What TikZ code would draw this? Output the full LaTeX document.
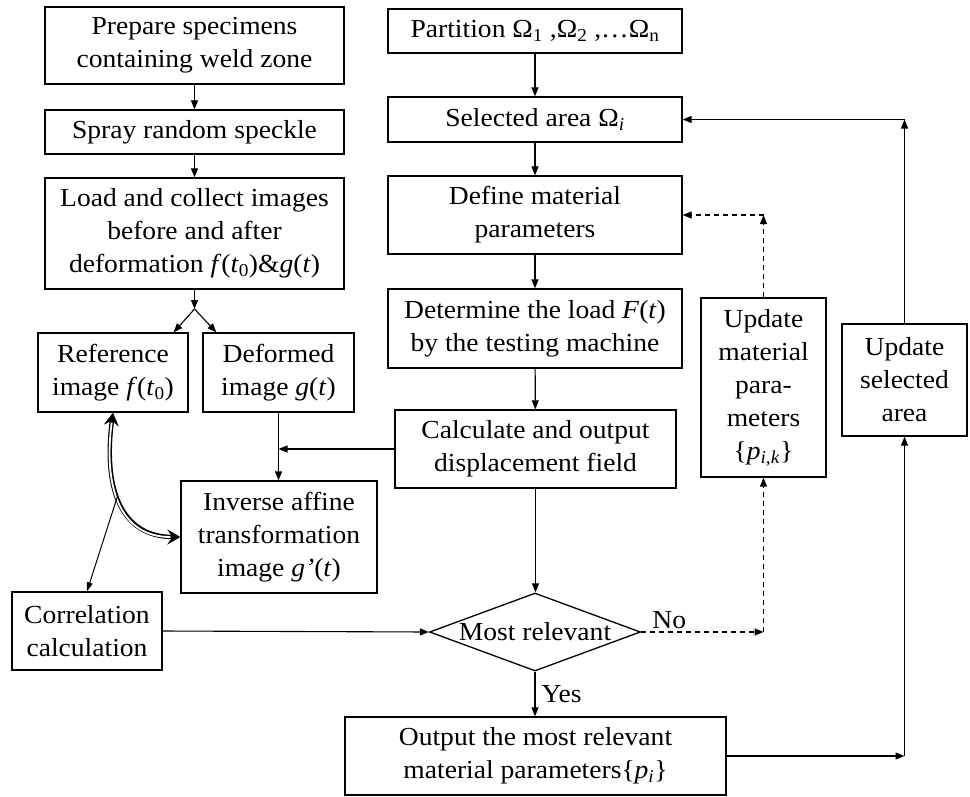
\documentclass[tikz,border=0pt]{standalone}
\usepackage{fontspec}
\setmainfont{Liberation Serif}[FakeStretch=1.06]
\usetikzlibrary{arrows.meta,shapes.geometric}

\begin{document}
\begin{tikzpicture}[x=1pt,y=1pt,
        blk/.style 2 args={draw,line width=1.3pt,align=center,minimum width=#1,minimum height=#2},
        arr/.style={line width=1.1pt,-{Triangle[length=9pt,width=7pt]}},
        dsh/.style={arr,dash pattern=on 5pt off 4pt},
        dbl/.style={line width=4.4pt,{Stealth[length=13pt,width=15pt,inset=5pt]}-{Stealth[length=13pt,width=15pt,inset=5pt]}}]
        \tikzstyle{every node}+=[inner sep=0pt,font=\fontsize{26}{33}\selectfont]
        \useasboundingbox (0,0) rectangle (970,-796);
        \node[blk={299}{77}] (prep) at (194.5,-45.5) {Prepare specimens\\containing weld zone};
        \node[blk={299}{44}] (spray) at (194.5,-132) {Spray random speckle};
        \node[blk={299}{111}] (collect) at (194.5,-233.5) {Load and collect images\\before and after\\deformation \textit{f}(\textit{t}\textsubscript{0})\&\textit{g}(\textit{t})};
        \node[blk={150}{79}] (refimg) at (113,-372.5) {Reference\\image \textit{f}(\textit{t}\textsubscript{0})};
        \node[blk={151}{79}] (defimg) at (278.5,-372.5) {Deformed\\image \textit{g}(\textit{t})};
        \node[blk={196}{112}] (invimg) at (279,-537) {Inverse affine\\transformation\\image \textit{g’}(\textit{t})};
        \node[blk={150}{78}] (corr) at (87,-631) {Correlation\\calculation};
        \node[blk={294}{44}] (part) at (535,-31) {Partition Ω\textsubscript{1} ,Ω\textsubscript{2} ,…Ω\textsubscript{n}};
        \node[blk={294}{45}] (sel) at (535,-119.5) {Selected area Ω\textsubscript{\textit{i}}};
        \node[blk={294}{78}] (defmat) at (535,-215) {Define material\\parameters};
        \node[blk={294}{79}] (load) at (535,-328.5) {Determine the load \textit{F}(\textit{t})\\by the testing machine};
        \node[blk={281}{78}] (calc) at (535.5,-449) {Calculate and output\\displacement field};
        \node[draw,line width=1.3pt,diamond,aspect=2.7,minimum width=211,minimum height=78] (rel) at (535,-632) {Most relevant};
        \node[blk={381}{78}] (out) at (535.5,-756) {Output the most relevant\\material parameters\{\textit{p}\textsubscript{\textit{i}}\}};
        \node[blk={125}{179}] (updmat) at (763.5,-387.5) {Update\\material\\para-\\meters\\\{\textit{p}\textsubscript{\textit{i,k}}\}};
        \node[blk={125}{112}] (updsel) at (904.5,-380) {Update\\selected\\area};
        \coordinate (fork) at (194.5,-309);
        \coordinate (nocorn) at (updmat.south |- rel.east);
        \coordinate (retcorn) at (updmat.north |- defmat.east);
        \coordinate (outcorn) at (updsel.south |- out.east);
        \coordinate (topcorn) at (updsel.north |- sel.east);
        \draw[arr] (prep) -- (spray);
        \draw[arr] (spray) -- (collect);
        \draw[arr] (collect) -- (fork);
        \draw[arr] (fork) -- ([xshift=-15pt]refimg.north east);
        \draw[arr] (fork) -- ([xshift=14pt]defimg.north west);
        \draw[arr] (defimg.south) -- (defimg.south |- invimg.north);
        \draw[arr] (calc.west) -- (calc.west -| defimg.south);
        \draw[dbl] (refimg.south) .. controls +(-10,-75) and +(-60,0) .. (invimg.west) coordinate[pos=0.45] (tap);
        \draw[white,line width=1.8pt,shorten <=10pt,shorten >=10pt] (refimg.south) .. controls +(-10,-75) and +(-60,0) .. (invimg.west);
        \draw[line width=1pt,-{Triangle[length=9pt,width=6pt]}] (tap) -- (corr.north);
        \draw[arr] (corr.east) -- (rel.west);
        \draw[arr] (part) -- (sel);
        \draw[arr] (sel) -- (defmat);
        \draw[arr] (defmat) -- (load);
        \draw[arr] (load) -- (calc);
        \draw[arr] (calc.south) -- (calc.south |- rel.north);
        \draw[arr] (rel.south) -- node[right=6pt] {Yes} (rel.south |- out.north);
        \draw[dsh] (rel.east) -- node[pos=0.23,above=3pt] {No} (nocorn);
        \draw[dsh] (nocorn) -- (updmat.south);
        \draw[dsh] (updmat.north) -- (retcorn);
        \draw[dsh] (retcorn) -- (defmat.east);
        \draw[arr] (out.east) -- (outcorn);
        \draw[arr] (outcorn) -- (updsel.south);
        \draw[arr] (updsel.north) -- (topcorn);
        \draw[arr] (topcorn) -- (sel.east);
        \end{tikzpicture}
\end{document}
